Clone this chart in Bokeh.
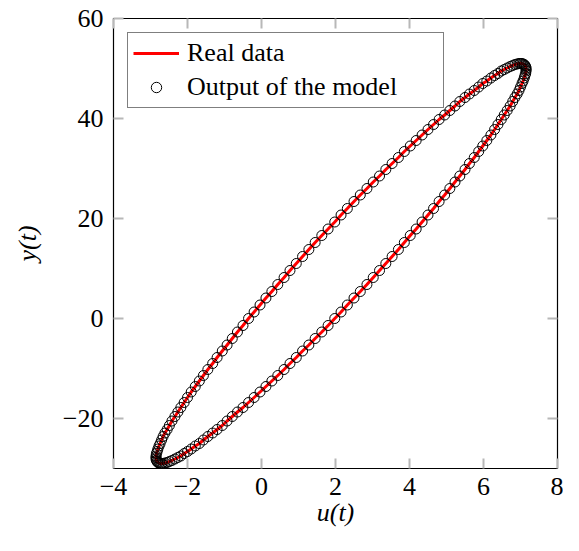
from bokeh.plotting import figure
from bokeh.models import (Range1d, FixedTicker, LinearAxis, Legend, LegendItem,
                          CustomJSTickFormatter)
from bokeh.embed import file_html
from bokeh.resources import INLINE

# ---- data ----
u_values = [
    2.15, 2.32, 2.50, 2.67, 2.85, 3.02, 3.19, 3.36, 3.53, 3.70,
    3.86, 4.02, 4.18, 4.34, 4.50, 4.65, 4.80, 4.95, 5.09, 5.23,
    5.36, 5.50, 5.62, 5.75, 5.87, 5.98, 6.09, 6.20, 6.30, 6.39,
    6.48, 6.56, 6.64, 6.72, 6.79, 6.85, 6.91, 6.96, 7.00, 7.04,
    7.07, 7.10, 7.12, 7.14, 7.15, 7.15, 7.15, 7.14, 7.12, 7.10,
    7.07, 7.04, 7.00, 6.96, 6.91, 6.85, 6.79, 6.72, 6.64, 6.56,
    6.48, 6.39, 6.30, 6.20, 6.09, 5.98, 5.87, 5.75, 5.62, 5.50,
    5.36, 5.23, 5.09, 4.95, 4.80, 4.65, 4.50, 4.34, 4.18, 4.02,
    3.86, 3.70, 3.53, 3.36, 3.19, 3.02, 2.85, 2.67, 2.50, 2.32,
    2.15, 1.98, 1.80, 1.63, 1.45, 1.28, 1.11, 0.94, 0.77, 0.61,
    0.44, 0.28, 0.12, -0.04, -0.20, -0.35, -0.50, -0.65, -0.79, -0.93,
    -1.06, -1.20, -1.32, -1.45, -1.57, -1.68, -1.79, -1.90, -2.00, -2.09,
    -2.18, -2.26, -2.34, -2.42, -2.49, -2.55, -2.61, -2.66, -2.70, -2.74,
    -2.77, -2.80, -2.82, -2.84, -2.85, -2.85, -2.85, -2.84, -2.82, -2.80,
    -2.77, -2.74, -2.70, -2.66, -2.61, -2.55, -2.49, -2.42, -2.34, -2.26,
    -2.18, -2.09, -2.00, -1.90, -1.79, -1.68, -1.57, -1.45, -1.32, -1.20,
    -1.06, -0.93, -0.79, -0.65, -0.50, -0.35, -0.20, -0.04, 0.12, 0.28,
    0.44, 0.61, 0.77, 0.94, 1.11, 1.28, 1.45, 1.63, 1.80, 1.98,
]
y_values = [
    20.7, 22.0, 23.4, 24.7, 26.0, 27.3, 28.5, 29.8, 31.0, 32.2,
    33.4, 34.5, 35.6, 36.7, 37.8, 38.8, 39.8, 40.7, 41.6, 42.5,
    43.4, 44.2, 44.9, 45.6, 46.3, 47.0, 47.5, 48.1, 48.6, 49.0,
    49.5, 49.8, 50.1, 50.4, 50.6, 50.8, 50.9, 51.0, 51.0, 51.0,
    50.9, 50.8, 50.6, 50.4, 50.1, 49.8, 49.5, 49.0, 48.6, 48.1,
    47.5, 47.0, 46.3, 45.6, 44.9, 44.2, 43.4, 42.5, 41.6, 40.7,
    39.8, 38.8, 37.8, 36.7, 35.6, 34.5, 33.4, 32.2, 31.0, 29.8,
    28.5, 27.3, 26.0, 24.7, 23.4, 22.0, 20.7, 19.3, 17.9, 16.6,
    15.2, 13.8, 12.4, 11.0, 9.6, 8.2, 6.8, 5.4, 4.1, 2.7,
    1.3, 0.0, -1.4, -2.7, -4.0, -5.3, -6.5, -7.8, -9.0, -10.2,
    -11.4, -12.5, -13.6, -14.7, -15.8, -16.8, -17.8, -18.7, -19.6, -20.5,
    -21.4, -22.2, -22.9, -23.6, -24.3, -25.0, -25.5, -26.1, -26.6, -27.0,
    -27.5, -27.8, -28.1, -28.4, -28.6, -28.8, -28.9, -29.0, -29.0, -29.0,
    -28.9, -28.8, -28.6, -28.4, -28.1, -27.8, -27.5, -27.0, -26.6, -26.1,
    -25.5, -25.0, -24.3, -23.6, -22.9, -22.2, -21.4, -20.5, -19.6, -18.7,
    -17.8, -16.8, -15.8, -14.7, -13.6, -12.5, -11.4, -10.2, -9.0, -7.8,
    -6.5, -5.3, -4.0, -2.7, -1.4, 0.0, 1.3, 2.7, 4.1, 5.4,
    6.8, 8.2, 9.6, 11.0, 12.4, 13.8, 15.2, 16.6, 17.9, 19.3,
]
x_ticks = [-4, -2, 0, 2, 4, 6, 8]
x_tick_labels = ["\u22124", "\u22122", "0", "2", "4", "6", "8"]
y_ticks = [-20, 0, 20, 40, 60]
y_tick_labels = ["\u221220", "0", "20", "40", "60"]
series_names = ["Real data", "Output of the model"]
x_label = "u(t)"
y_label = "y(t)"

FONT = "'Liberation Serif', 'Times New Roman', serif"
FS = "26px"
TICK_COLOR = "#b8b8b8"

p = figure(width=563, height=535,
           x_range=Range1d(-4, 8), y_range=Range1d(-30, 60),
           output_backend="svg", toolbar_location=None,
           min_border_left=113, min_border_right=6,
           min_border_top=18, min_border_bottom=67)
p.grid.visible = False
p.outline_line_color = "black"
p.outline_line_width = 1.2
p.background_fill_color = "white"
p.border_fill_color = "white"


def style_axis(ax, ticks, labels, show_labels=True):
    ax.ticker = FixedTicker(ticks=ticks)
    ax.major_tick_in = 10
    ax.major_tick_out = 0
    ax.major_tick_line_color = TICK_COLOR
    ax.major_tick_line_width = 2
    ax.minor_tick_line_color = None
    ax.axis_line_color = None
    if show_labels:
        ax.major_label_overrides = dict(zip(ticks, labels))
        ax.major_label_text_font = FONT
        ax.major_label_text_font_size = FS
        ax.major_label_text_color = "black"
    else:
        ax.formatter = CustomJSTickFormatter(code="return ''")
        ax.major_label_text_font_size = "0px"
        ax.major_label_standoff = 0


style_axis(p.xaxis[0], x_ticks, x_tick_labels)
style_axis(p.yaxis[0], y_ticks, y_tick_labels)
p.xaxis[0].major_label_standoff = 9
p.yaxis[0].major_label_standoff = 10
for ax, lab, st in ((p.xaxis[0], x_label, 0), (p.yaxis[0], y_label, 18)):
    ax.axis_label = lab
    ax.axis_label_text_font = FONT
    ax.axis_label_text_font_size = FS
    ax.axis_label_text_font_style = "italic"
    ax.axis_label_text_color = "black"
    ax.axis_label_standoff = st

top_ax = LinearAxis()
style_axis(top_ax, x_ticks, x_tick_labels, show_labels=False)
p.add_layout(top_ax, "above")
right_ax = LinearAxis()
style_axis(right_ax, y_ticks, y_tick_labels, show_labels=False)
p.add_layout(right_ax, "right")

u_closed = u_values + u_values[:1]
y_closed = y_values + y_values[:1]
line_r = p.line(u_closed, y_closed, line_color="#ff0000", line_width=3)
sc_r = p.scatter(u_values, y_values, marker="circle", size=10,
                 line_color="black", line_width=1, fill_color=None)

legend = Legend(items=[LegendItem(label=series_names[0], renderers=[line_r]),
                       LegendItem(label=series_names[1], renderers=[sc_r])],
                location="top_left", margin=14, padding=5, spacing=4,
                glyph_width=46, glyph_height=26, label_height=26,
                label_width=251, label_standoff=8,
                label_text_font=FONT, label_text_font_size=FS,
                label_text_color="black",
                border_line_color="black", border_line_width=1,
                background_fill_color="white", background_fill_alpha=1)
p.add_layout(legend)

open("out.html", "w").write(file_html(p, INLINE))
